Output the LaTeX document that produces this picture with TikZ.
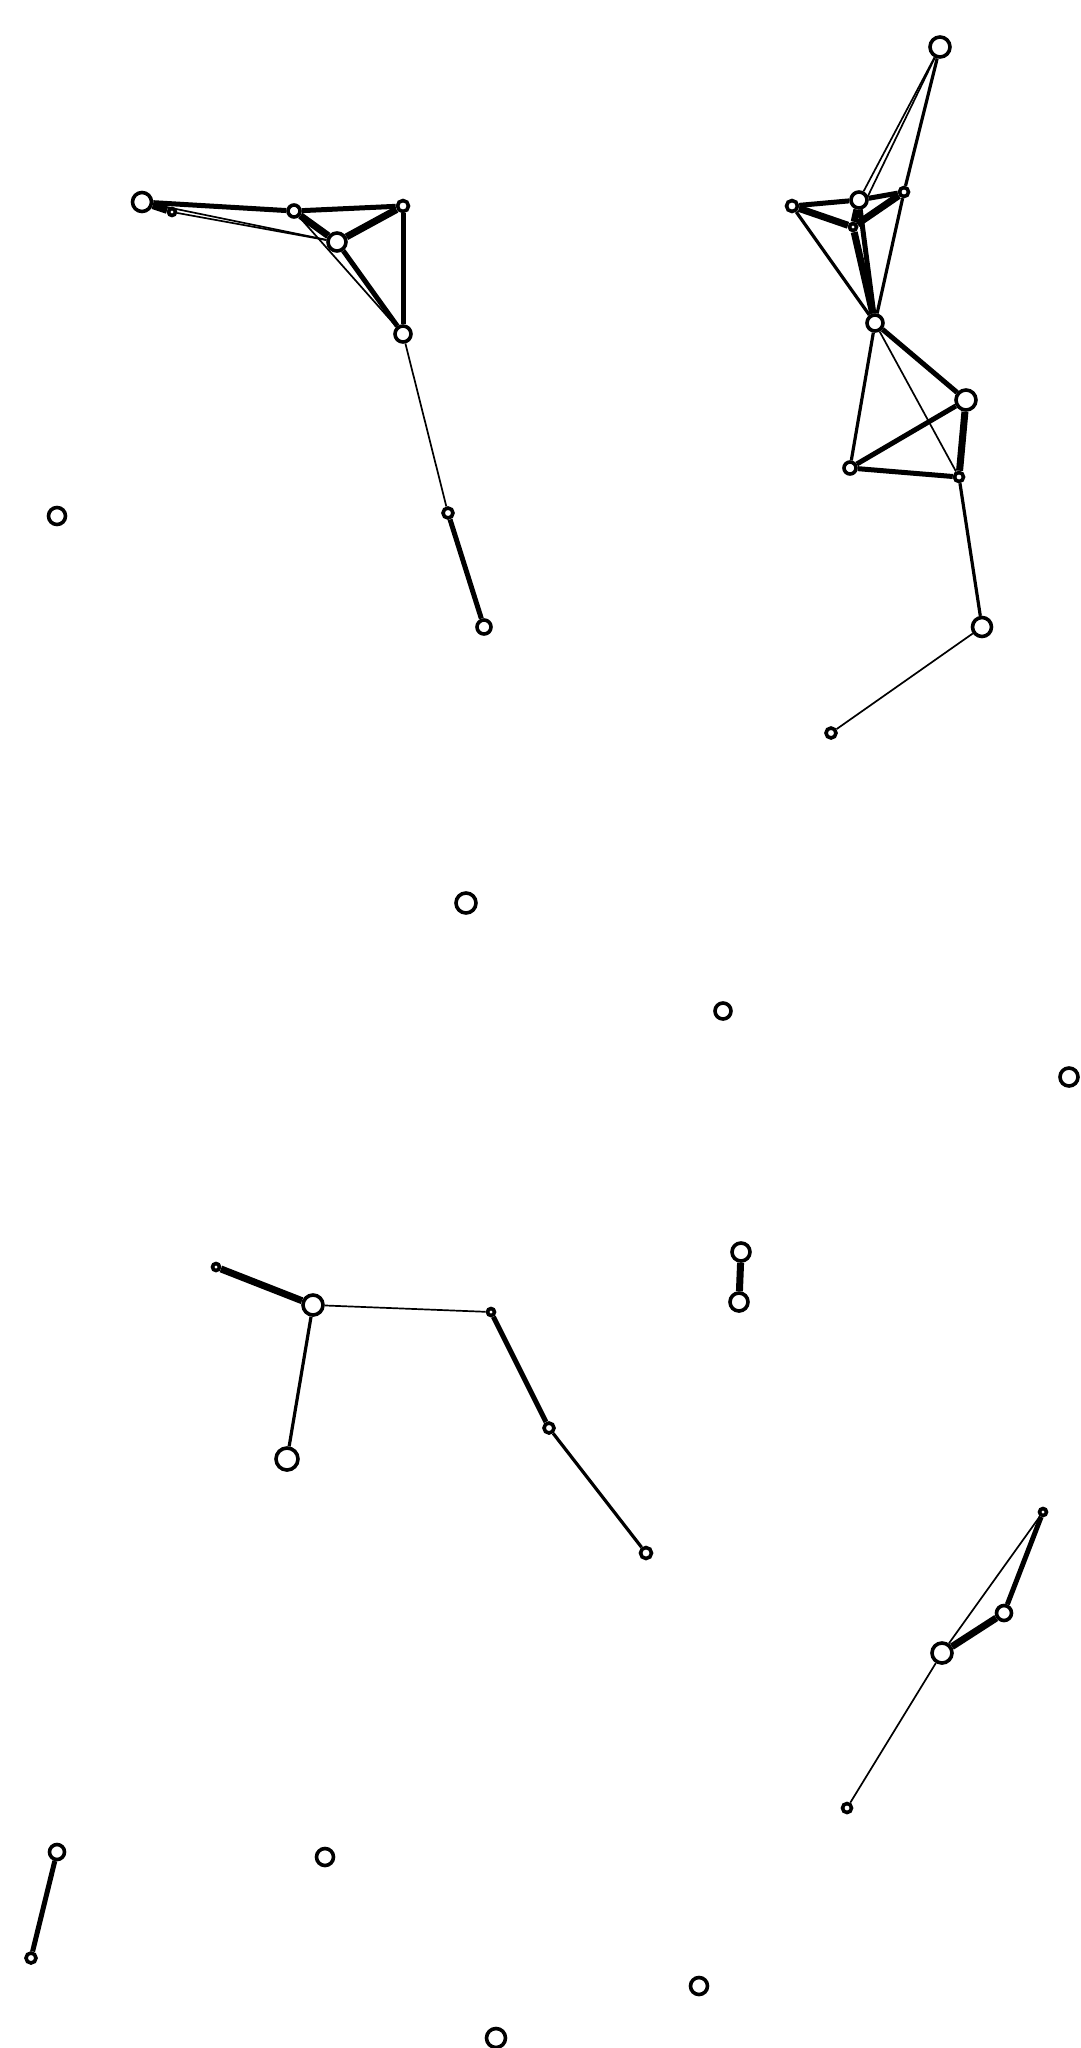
\documentclass[tikz,border=0pt]{standalone}
\usepackage{tikz}
\usetikzlibrary{positioning,backgrounds}
\tikzstyle{vertex} = [circle, draw=black, fill=white, line width=3.6pt, inner sep=0pt]
\tikzstyle{lightedge} = [line width=1.7pt]
\tikzstyle{midedge} = [line width=3.2pt]
\tikzstyle{heavyedge} = [line width=5pt]
\tikzstyle{boldedge} = [line width=7pt]

\begin{document}
\begin{tikzpicture}[x=1pt, y=-1pt]
            \useasboundingbox (0,0) rectangle (1080,2048);
            % top left group
            \node[vertex, minimum size=19] (1) at (142,202) {}; \node[vertex, minimum size=7] (2) at (172,212) {};
            \node[vertex, minimum size=12] (3) at (294,211) {}; \node[vertex, minimum size=11] (4) at (403,206) {};
            \node[vertex, minimum size=18] (5) at (337,242) {}; \node[vertex, minimum size=16] (6) at (403,334) {};
            \node[vertex, minimum size=10] (7) at (448,513) {}; \node[vertex, minimum size=14] (8) at (484,627) {};
            % top right group
            \node[vertex, minimum size=20] (9) at (940,47) {}; \node[vertex, minimum size=11] (10) at (792,206) {};
            \node[vertex, minimum size=16] (11) at (859,200) {}; \node[vertex, minimum size=9] (12) at (904,192) {};
            \node[vertex, minimum size=7] (13) at (853,227) {}; \node[vertex, minimum size=16] (14) at (875,323) {};
            \node[vertex, minimum size=20] (15) at (966,400) {}; \node[vertex, minimum size=12] (16) at (850,468) {};
            \node[vertex, minimum size=9] (17) at (959,477) {}; \node[vertex, minimum size=19] (18) at (982,627) {};
            \node[vertex, minimum size=10] (19) at (831,733) {};
            % single ones
            \node[vertex, minimum size=17] (20) at (57,516) {}; \node[vertex, minimum size=20] (21) at (466,903) {};
            \node[vertex, minimum size=16] (22) at (723,1011) {}; \node[vertex, minimum size=18] (23) at (1069,1077) {};
            \node[vertex, minimum size=18] (24) at (741,1252) {}; \node[vertex, minimum size=18] (25) at (739,1302) {};
            % lower groups
            \node[vertex, minimum size=7] (26) at (216,1267) {}; \node[vertex, minimum size=20] (27) at (313,1305) {};
            \node[vertex, minimum size=22] (28) at (287,1459) {}; \node[vertex, minimum size=7] (29) at (491,1312) {};
            \node[vertex, minimum size=10] (30) at (549,1428) {}; \node[vertex, minimum size=11] (31) at (646,1553) {};
            \node[vertex, minimum size=7] (32) at (1043,1512) {}; \node[vertex, minimum size=15] (33) at (1004,1613) {};
            \node[vertex, minimum size=20] (34) at (942,1653) {}; \node[vertex, minimum size=9] (35) at (847,1808) {};
            \node[vertex, minimum size=15] (36) at (57,1852) {}; \node[vertex, minimum size=10] (37) at (31,1958) {};
            \node[vertex, minimum size=17] (38) at (325,1857) {}; \node[vertex, minimum size=17] (39) at (699,1986) {};
            \node[vertex, minimum size=19] (40) at (496,2038) {};

            \begin{scope}[on background layer]
            \draw[boldedge] (1) -- (2);
            \draw[heavyedge] (1) -- (3);
            \draw[heavyedge] (3) -- (4);
            \draw[lightedge] (1) -- (5);
            \draw[lightedge] (2) -- (5);
            \draw[boldedge] (3) -- (5);
            \draw[boldedge] (5) -- (4);
            \draw[lightedge] (3) -- (6);
            \draw[heavyedge] (5) -- (6);
            \draw[heavyedge] (4) -- (6);
            \draw[lightedge] (6) -- (7);
            \draw[heavyedge] (7) -- (8);

            \draw[lightedge] (9) -- (11);
            \draw[lightedge] (9) -- (13);
            \draw[midedge] (9) -- (12);
            \draw[heavyedge] (10) -- (11);
            \draw[boldedge] (10) -- (13);
            \draw[heavyedge] (11) -- (12);
            \draw[boldedge] (13) -- (12);
            \draw[boldedge] (11) -- (13);
            \draw[heavyedge] (11) -- (14);
            \draw[boldedge] (13) -- (14);
            \draw[midedge] (10) -- (14);
            \draw[midedge] (12) -- (14);
            \draw[heavyedge] (14) -- (15);
            \draw[midedge] (14) -- (16);
            \draw[lightedge] (14) -- (17);
            \draw[heavyedge] (15) -- (16);
            \draw[boldedge] (15) -- (17);
            \draw[heavyedge] (16) -- (17);
            \draw[midedge] (17) -- (18);
            \draw[lightedge] (18) -- (19);

            \draw[boldedge] (24) -- (25);

            \draw[boldedge] (26) -- (27);
            \draw[midedge] (27) -- (28);
            \draw[lightedge] (27) -- (29);
            \draw[heavyedge] (29) -- (30);
            \draw[midedge] (30) -- (31);

            \draw[heavyedge] (32) -- (33);
            \draw[boldedge] (33) -- (34);
            \draw[lightedge] (32) -- (34);
            \draw[lightedge] (34) -- (35);

            \draw[heavyedge] (36) -- (37);
            \end{scope}
\end{tikzpicture}
\end{document}
